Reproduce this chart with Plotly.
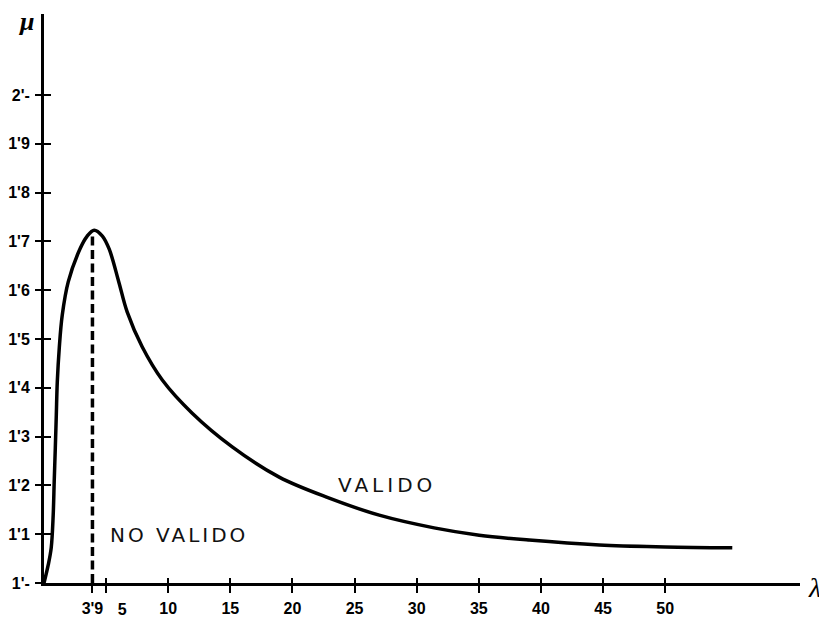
import plotly.graph_objects as go

# curve mu(lambda)
lam = [0.0, 0.34, 0.58, 0.74, 0.82, 0.91, 0.99, 1.07, 1.23, 1.47, 1.95, 2.92, 3.45, 4.04,
       4.7, 5.25, 6.02, 6.7, 7.9, 9.52, 11.93, 15.15, 18.93, 22.96, 26.98, 31.4, 35.03,
       39.05, 44.7, 50.0, 55.4]
mu = [1.0, 1.037, 1.072, 1.139, 1.207, 1.277, 1.344, 1.412, 1.482, 1.549, 1.617, 1.686,
      1.710, 1.723, 1.711, 1.684, 1.617, 1.555, 1.484, 1.416, 1.348, 1.279, 1.217, 1.174,
      1.139, 1.113, 1.098, 1.088, 1.078, 1.074, 1.072]

# limit line
lam_lim = [3.9, 3.9]
mu_lim = [1.0, 1.712]

x_tickvals = [3.9, 5, 10, 15, 20, 25, 30, 35, 40, 45, 50]
x_ticktext = ["3'9", "", "10", "15", "20", "25", "30", "35", "40", "45", "50"]
# the "5" label sits on its own overlaid axis so it can be nudged clear of "3'9"
x5_tickvals = [5]
x5_ticktext = ["5"]
y_tickvals = [1.0, 1.1, 1.2, 1.3, 1.4, 1.5, 1.6, 1.7, 1.8, 1.9, 2.0]
y_ticktext = ["1'-", "1'1", "1'2", "1'3", "1'4", "1'5", "1'6", "1'7", "1'8", "1'9", "2'-"]

labels = ["VALIDO", "NO VALIDO"]
label_lam = [27.6, 10.9]
label_mu = [1.2, 1.098]
label_spacing = [4, 3]

XR = [0, 60.85]
YR = [1.0, 2.166]

fig = go.Figure()
fig.add_trace(go.Scatter(x=lam_lim, y=mu_lim, mode="lines",
                         line=dict(color="black", width=3.5, dash="9px,4.5px"),
                         hoverinfo="skip", showlegend=False))
fig.add_trace(go.Scatter(x=lam, y=mu, mode="lines",
                         line=dict(color="black", width=3.5, shape="spline", smoothing=1.0),
                         hoverinfo="skip", showlegend=False))

tickfont = dict(family="Liberation Sans", size=16, color="black", weight="bold")

for txt, lx, ly, sp in zip(labels, label_lam, label_mu, label_spacing):
    fig.add_annotation(x=lx, y=ly, xref="x", yref="y", showarrow=False,
                       text='<span style="letter-spacing:%dpx">%s</span>' % (sp, txt),
                       font=dict(family="DejaVu Sans", size=20, color="#111"))

fig.add_annotation(x=1, y=1.0, xref="paper", yref="y", xanchor="left", yanchor="middle",
                   xshift=6, yshift=-4, showarrow=False, text="<i>λ</i>",
                   font=dict(family="Liberation Serif", size=28, color="black"))
fig.add_annotation(x=0, y=1, xref="paper", yref="paper", xanchor="right", yanchor="middle",
                   xshift=-8, yshift=-7, showarrow=False, text="<b><i>μ</i></b>",
                   font=dict(family="Liberation Serif", size=26, color="black"))

fig.update_layout(
    width=819, height=611,
    margin=dict(l=36, r=27, t=6, b=36, autoexpand=False),
    paper_bgcolor="white", plot_bgcolor="white",
    xaxis=dict(range=XR, showgrid=False, zeroline=False, showline=True, linecolor="black",
               linewidth=3, ticks="outside", ticklen=7, tickwidth=2, tickcolor="black",
               tickvals=x_tickvals, ticktext=x_ticktext, tickfont=tickfont, tickangle=0,
               ticklabelstandoff=2, automargin=False),
    yaxis=dict(range=YR, showgrid=False, zeroline=False, showline=True, linecolor="black",
               linewidth=3, ticks="outside", ticklen=6, tickwidth=2, tickcolor="black",
               tickvals=y_tickvals, ticktext=y_ticktext, tickfont=tickfont,
               ticklabelstandoff=2, automargin=False),
    xaxis2=dict(range=XR, overlaying="x", matches="x", showgrid=False, zeroline=False,
                showline=False, ticks="inside", ticklen=5, tickwidth=2, tickcolor="black",
                tickvals=x_tickvals, showticklabels=False, side="bottom"),
    yaxis2=dict(range=YR, overlaying="y", matches="y", showgrid=False, zeroline=False,
                showline=False, ticks="inside", ticklen=7, tickwidth=2, tickcolor="black",
                tickvals=y_tickvals, showticklabels=False, side="left"),
    xaxis3=dict(range=XR, overlaying="x", matches="x", showgrid=False, zeroline=False,
                showline=False, ticks="outside", ticklen=7, tickcolor="rgba(0,0,0,0)",
                tickvals=x5_tickvals, ticktext=x5_ticktext, tickfont=tickfont, tickangle=0,
                ticklabelstandoff=5, ticklabelshift=16, side="bottom", automargin=False),
)
# invisible traces to activate the overlaid axes
fig.add_trace(go.Scatter(x=[None], y=[None], xaxis="x2", yaxis="y2", showlegend=False,
                         hoverinfo="skip"))
fig.add_trace(go.Scatter(x=[None], y=[None], xaxis="x3", yaxis="y", showlegend=False,
                         hoverinfo="skip"))

fig.write_html("out.html")
